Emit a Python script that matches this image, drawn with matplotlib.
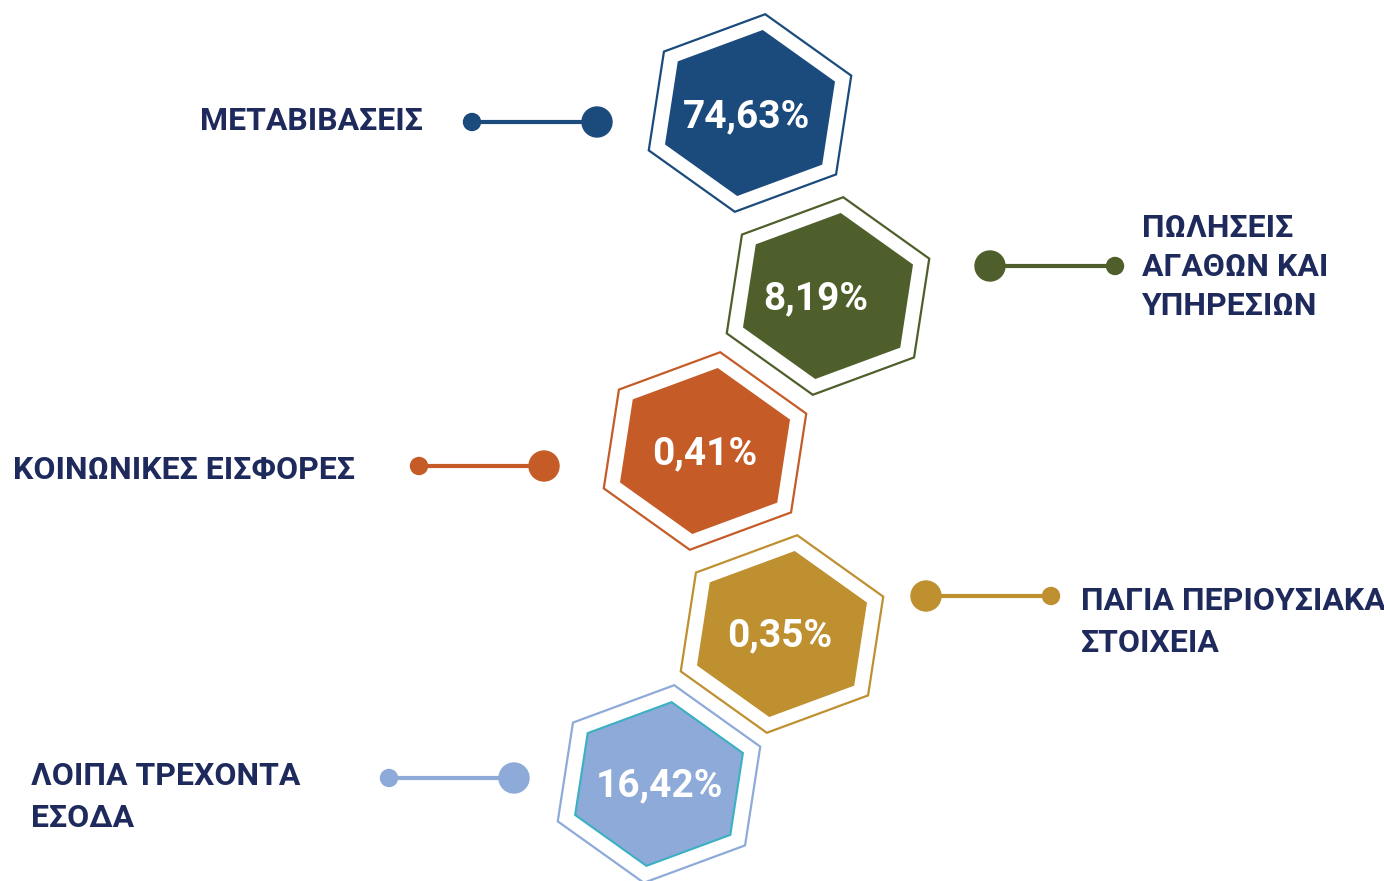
import numpy as np
import matplotlib.pyplot as plt
from matplotlib.patches import Polygon, Circle

# Data
categories = ["ΜΕΤΑΒΙΒΑΣΕΙΣ",
              "ΠΩΛΗΣΕΙΣ\nΑΓΑΘΩΝ ΚΑΙ\nΥΠΗΡΕΣΙΩΝ",
              "ΚΟΙΝΩΝΙΚΕΣ ΕΙΣΦΟΡΕΣ",
              "ΠΑΓΙΑ ΠΕΡΙΟΥΣΙΑΚΑ\nΣΤΟΙΧΕΙΑ",
              "ΛΟΙΠΑ ΤΡΕΧΟΝΤΑ\nΕΣΟΔΑ"]
shares = [74.63, 8.19, 0.41, 0.35, 16.42]
colors = ["#1b4b7d", "#4e5f2b", "#c55c28", "#bf9030", "#8eaad8"]
edge_colors = ["#1b4b7d", "#4e5f2b", "#c55c28", "#bf9030", "#3bb0c2"]

# Layout (pixel space)
hex_centers = [(750, 113), (828, 296), (705, 451), (782, 634), (659, 784)]
pct_pos = [(747, 117), (816, 299), (705, 454), (780, 636), (659, 786)]
label_align = ["right", "left", "right", "left", "left"]
label_pos = [(423, 121), (1142, 267), (355, 470), (1081, 622), (31, 797)]
label_spacing = [1.2, 1.36, 1.2, 1.48, 1.48]
line_y = [122, 266, 466, 596, 778]
small_dot_x = [472, 1115, 419, 1051, 389]
big_dot_x = [597, 990, 544, 926, 514]

text_color = "#1f2a5c"
font = ["Roboto", "DejaVu Sans"]


def hexagon(cx, cy, r, sx=1.04, sy=0.95, rot=-8):
    ang = np.deg2rad(np.arange(90, -270, -60) + rot)
    return np.column_stack([cx + r * sx * np.cos(ang), cy - r * sy * np.sin(ang)])


fig = plt.figure(figsize=(13.84, 8.81), dpi=100)
ax = fig.add_axes([0, 0, 1, 1])
ax.set_xlim(0, 1384)
ax.set_ylim(881, 0)
ax.axis("off")

for i, (cx, cy) in enumerate(hex_centers):
    ax.add_patch(Polygon(hexagon(cx, cy, 105), closed=True, facecolor="white",
                         edgecolor=colors[i], linewidth=1.6, zorder=2))
    ax.add_patch(Polygon(hexagon(cx, cy, 87), closed=True, facecolor=colors[i],
                         edgecolor=edge_colors[i], linewidth=1.5, zorder=3))
    px, py = pct_pos[i]
    ax.text(px, py, f"{shares[i]:.2f}%".replace(".", ","), ha="center", va="center",
            color="white", fontsize=28, fontweight="bold", family=font, zorder=4)

    # connector
    ax.plot([small_dot_x[i], big_dot_x[i]], [line_y[i], line_y[i]], color=colors[i],
            linewidth=3, solid_capstyle="butt", zorder=2)
    ax.add_patch(Circle((small_dot_x[i], line_y[i]), 8.5, color=colors[i], zorder=3))
    ax.add_patch(Circle((big_dot_x[i], line_y[i]), 15, color=colors[i], zorder=3))

    lx, ly = label_pos[i]
    ax.text(lx, ly, categories[i], ha=label_align[i], va="center", color=text_color,
            fontsize=23, fontweight="bold", family=font, linespacing=label_spacing[i])

fig.savefig("out.png", dpi=100)
